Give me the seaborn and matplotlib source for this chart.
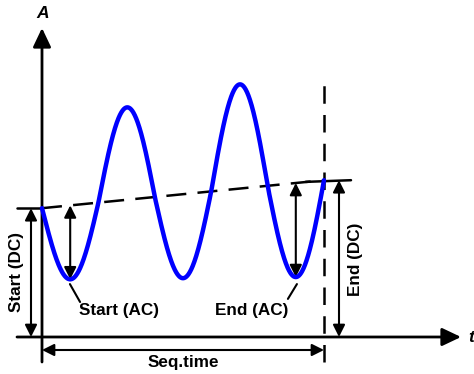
import numpy as np
import pandas as pd
import matplotlib
matplotlib.use("Agg")
import matplotlib.pyplot as plt
import seaborn as sns

# ---- chart values (arbitrary generator parameters) ----
seq_time = 10.0          # length of the sequence
periods = 2.5            # number of AC periods in the sequence
start_dc = 4.6           # Start (DC)
end_dc = 5.6             # End (DC)
start_ac = 2.55          # Start (AC) amplitude
end_ac = 3.45            # End (AC) amplitude
upper_lobe = 1.17        # drawn upper lobes are taller than lower ones
labels = ["Start (AC)", "End (AC)", "Start (DC)", "End (DC)", "Seq.time"]
axis_labels = ["A", "t"]

sns.set_style("white")
plt.rcParams["font.family"] = ["Liberation Sans", "DejaVu Sans"]
plt.rcParams["text.color"] = "black"

fig = plt.figure(figsize=(4.74, 3.74), dpi=100)
ax = fig.add_axes([0, 0, 1, 1])
sx, sy = 28.2, 28.0
ax.set_xlim(-42 / sx, (474 - 42) / sx)
ax.set_ylim(-(374 - 337) / sy, 337 / sy)
ax.axis("off")

t = np.linspace(0, seq_time, 800)
dc = start_dc + (end_dc - start_dc) * t / seq_time
amp = start_ac + (end_ac - start_ac) * t / seq_time
s = np.sin(2 * np.pi * periods * t / seq_time)
y = dc - amp * np.where(s > 0, s, upper_lobe * s)
df = pd.DataFrame({"t": t, "y": y})
sns.lineplot(data=df, x="t", y="y", ax=ax, color="#0000ff", lw=3.2,
             sort=False, solid_capstyle="round", zorder=5)

K = "black"
def arrow(p0, p1, style="-|>", lw=1.5, ms=10, hl=0.72, hw=0.36):
    ax.annotate("", xy=p1, xytext=p0,
                arrowprops=dict(arrowstyle=f"{style},head_length={hl},head_width={hw}",
                                lw=lw, color=K, mutation_scale=ms,
                                shrinkA=0, shrinkB=0), zorder=4)

# axes
arrow((0, -25 / sy), (0, 309 / sy), lw=2.0, ms=14.4, hl=0.8, hw=0.38)
arrow((-25 / sx, 0), (419 / sx, 0), lw=2.0, ms=14.4, hl=0.8, hw=0.38)
ax.text(0.03, 323 / sy, axis_labels[0], ha="center", va="center",
        fontsize=12.5, fontweight="bold", fontstyle="italic")
ax.text(429 / sx, 0, axis_labels[1], ha="center", va="center",
        fontsize=12.5, fontweight="bold", fontstyle="italic")

# DC line (dashed) and end marker line
ax.plot([0, seq_time], [start_dc, end_dc], color=K, lw=1.8, ls=(0, (8, 4.5)), zorder=3)
ax.plot([-25 / sx, 0], [start_dc, start_dc], color=K, lw=1.8, zorder=3)
ax.plot([seq_time - 0.65, seq_time + 27 / sx], [end_dc - 0.06, end_dc], color=K, lw=1.8, zorder=3)

# vertical dashed end line
ax.plot([seq_time, seq_time], [-25 / sy, 258 / sy], color=K, lw=1.8,
        ls=(0, (7, 4.5)), zorder=3)

# DC arrows
arrow((-11 / sx, start_dc), (-11 / sx, 0), style="<|-|>")
arrow((seq_time + 15 / sx, end_dc), (seq_time + 15 / sx, 0), style="<|-|>")

# AC arrows
for tt in (1.0, 9.0):
    d = start_dc + (end_dc - start_dc) * tt / seq_time
    am = start_ac + (end_ac - start_ac) * tt / seq_time
    arrow((tt, d), (tt, d - am), style="<|-|>")

# seq time arrow
arrow((0, -13 / sy), (seq_time, -13 / sy), style="<|-|>")

# labels
fs = 12.3
ax.text(2.73, 0.96, labels[0], ha="center", va="center", fontsize=fs, fontweight="bold")
ax.text(7.45, 0.96, labels[1], ha="center", va="center", fontsize=fs, fontweight="bold")
ax.plot([0.99, 1.35], [1.89, 1.25], color=K, lw=1.5)
ax.plot([9.04, 8.72], [1.89, 1.36], color=K, lw=1.5)
ax.text(-25 / sx, 2.32, labels[2], ha="center", va="center", fontsize=fs,
        fontweight="bold", rotation=90)
ax.text(11.1, 2.79, labels[3], ha="center", va="center", fontsize=fs,
        fontweight="bold", rotation=90)
ax.text(5.0, -25 / sy, labels[4], ha="center", va="center", fontsize=fs, fontweight="bold")

fig.savefig("out.png", dpi=100)
